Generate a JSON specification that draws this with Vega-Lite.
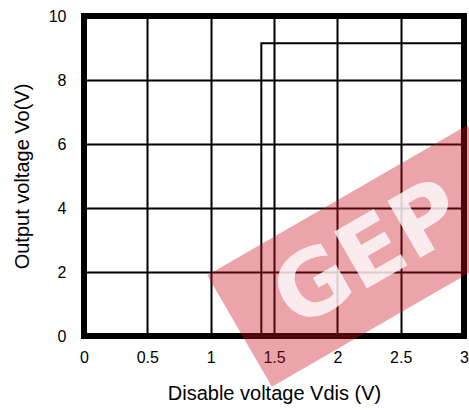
{
  "$schema": "https://vega.github.io/schema/vega-lite/v6.json",
  "width": 380,
  "height": 320,
  "autosize": "none",
  "padding": {"left": 84, "top": 16, "right": 5, "bottom": 74},
  "config": {
    "font": "Liberation Sans",
    "view": {"stroke": "black", "strokeWidth": 6},
    "axis": {"domain": false, "ticks": false, "grid": true, "gridColor": "black", "gridWidth": 2, "gridOpacity": 1, "labelColor": "black", "labelFontSize": 16, "titleFontSize": 20, "titleFontWeight": "normal", "titleColor": "black", "labelFlush": false, "labelExpr": "'' + datum.value"}
  },
  "layer": [
    {
      "data": {"values": [
        {"i": 0, "vdis": 1.4, "vo": 0},
        {"i": 1, "vdis": 1.4, "vo": 9.15},
        {"i": 2, "vdis": 3.0, "vo": 9.15}
      ]},
      "mark": {"type": "line", "color": "black", "strokeWidth": 2},
      "encoding": {
        "x": {"field": "vdis", "type": "quantitative", "scale": {"domain": [0, 3]}, "axis": {"values": [0, 0.5, 1, 1.5, 2, 2.5, 3], "labelPadding": 13, "title": "Disable voltage Vdis (V)", "titlePadding": 18}},
        "y": {"field": "vo", "type": "quantitative", "scale": {"domain": [0, 10]}, "axis": {"values": [0, 2, 4, 6, 8, 10], "labelPadding": 18, "title": "Output voltage Vo(V)", "titlePadding": 16}},
        "order": {"field": "i"}
      }
    },
    {
      "data": {"values": [{"mark": "GEP"}]},
      "mark": {"type": "point", "filled": true, "shape": "M-1,-0.43L1,-0.43L1,0.43L-1,0.43Z", "size": 90000, "angle": 330, "fill": "#c81020", "opacity": 0.38, "strokeWidth": 0},
      "encoding": {
        "x": {"datum": 2.254},
        "y": {"datum": 2.5}
      }
    },
    {
      "data": {"values": [{"mark": "GEP"}]},
      "mark": {"type": "text", "font": "DejaVu Sans", "fontWeight": "bold", "fontSize": 90, "angle": 330, "color": "white", "opacity": 0.8, "align": "center", "baseline": "middle"},
      "encoding": {
        "text": {"field": "mark"},
        "x": {"datum": 2.254},
        "y": {"datum": 2.5}
      }
    }
  ]
}
